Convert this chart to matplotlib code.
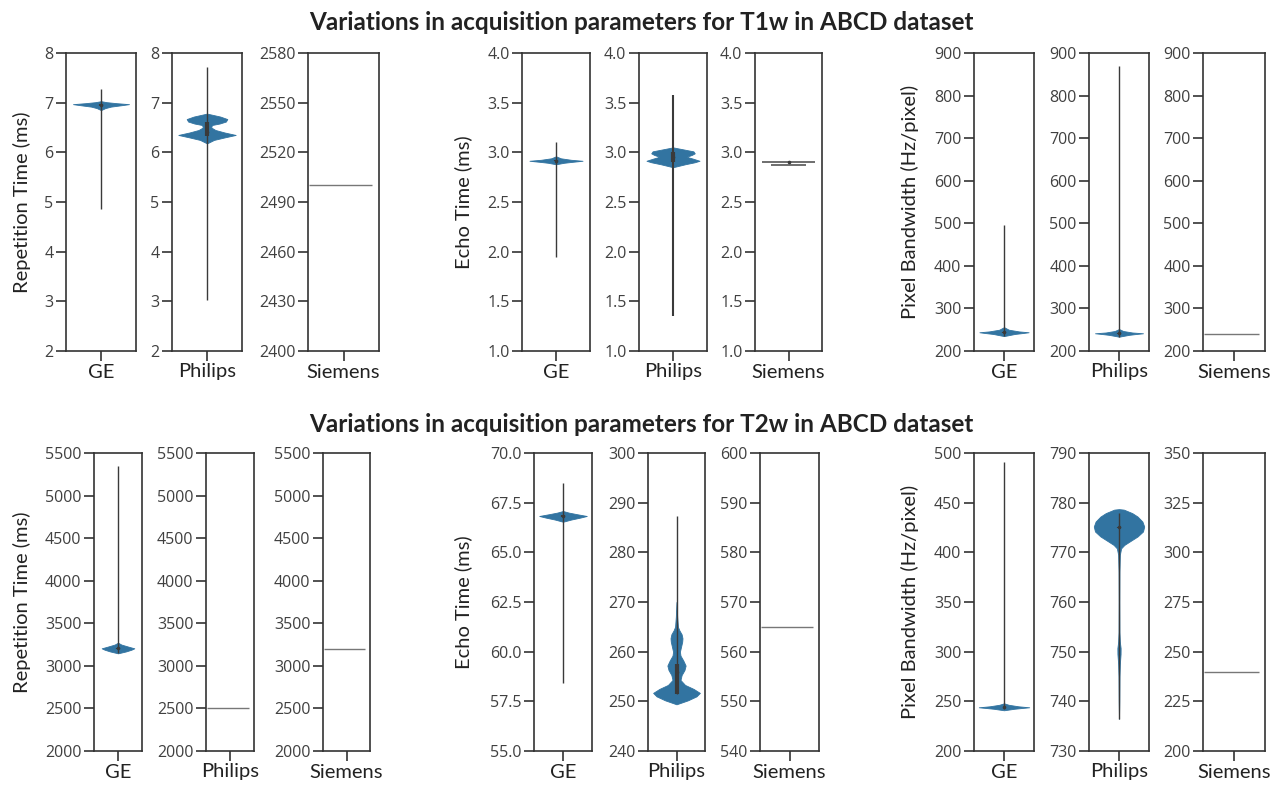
import matplotlib
matplotlib.use("Agg")
import matplotlib.pyplot as plt

# ---------------- data ----------------
vendors = ["GE", "Philips", "Siemens"]
row_titles = ["Variations in acquisition parameters for T1w in ABCD dataset",
              "Variations in acquisition parameters for T2w in ABCD dataset"]
param_labels = ["Repetition Time (ms)", "Echo Time (ms)", "Pixel Bandwidth (Hz/pixel)"]

# y-axis limits / ticks for each panel (row, parameter, vendor)
t1_tr_ylims = [(2, 8), (2, 8), (2400, 2580)]
t1_tr_ticks = [[2, 3, 4, 5, 6, 7, 8], [2, 3, 4, 5, 6, 7, 8], [2400, 2430, 2460, 2490, 2520, 2550, 2580]]
t1_te_ylims = [(1.0, 4.0), (1.0, 4.0), (1.0, 4.0)]
t1_te_ticks = [[1.0, 1.5, 2.0, 2.5, 3.0, 3.5, 4.0]] * 3
t1_pb_ylims = [(200, 900), (200, 900), (200, 900)]
t1_pb_ticks = [[200, 300, 400, 500, 600, 700, 800, 900]] * 3
t2_tr_ylims = [(2000, 5500)] * 3
t2_tr_ticks = [[2000, 2500, 3000, 3500, 4000, 4500, 5000, 5500]] * 3
t2_te_ylims = [(55.0, 70.0), (240, 300), (540, 600)]
t2_te_ticks = [[55.0, 57.5, 60.0, 62.5, 65.0, 67.5, 70.0],
               [240, 250, 260, 270, 280, 290, 300],
               [540, 550, 560, 570, 580, 590, 600]]
t2_pb_ylims = [(200, 500), (730, 790), (200, 350)]
t2_pb_ticks = [[200, 250, 300, 350, 400, 450, 500],
               [730, 740, 750, 760, 770, 780, 790],
               [200, 225, 250, 275, 300, 325, 350]]

# violin density profiles: value levels and half-widths
t1_tr_ge_y = [6.85, 6.89, 6.92, 6.95, 6.97, 6.99, 7.01, 7.03]
t1_tr_ge_w = [0.0, 0.06, 0.14, 0.30, 0.40, 0.22, 0.08, 0.0]
t1_tr_ge_stats = (4.85, 6.94, 6.95, 6.97, 7.27)   # min, q1, median, q3, max

t1_tr_ph_y = [6.18, 6.25, 6.30, 6.35, 6.40, 6.45, 6.50, 6.55, 6.58, 6.62, 6.67, 6.72, 6.78]
t1_tr_ph_w = [0.0, 0.10, 0.25, 0.41, 0.25, 0.12, 0.06, 0.07, 0.18, 0.27, 0.29, 0.19, 0.0]
t1_tr_ph_stats = (3.02, 6.33, 6.40, 6.62, 7.72)

t1_tr_si_line = 2500

t1_te_ge_y = [2.88, 2.895, 2.905, 2.915, 2.925, 2.94, 2.96]
t1_te_ge_w = [0.0, 0.12, 0.25, 0.39, 0.22, 0.07, 0.0]
t1_te_ge_stats = (1.95, 2.91, 2.915, 2.92, 3.10)

t1_te_ph_y = [2.85, 2.88, 2.90, 2.915, 2.935, 2.955, 2.975, 2.99, 3.01, 3.03, 3.05]
t1_te_ph_w = [0.0, 0.18, 0.32, 0.39, 0.30, 0.20, 0.28, 0.32, 0.30, 0.15, 0.0]
t1_te_ph_stats = (1.35, 2.90, 2.95, 3.00, 3.58)

t1_te_si_lines = [2.90, 2.875]
t1_te_si_half = [0.40, 0.26]

t1_pb_ge_y = [235, 240, 242, 244, 246, 250, 256]
t1_pb_ge_w = [0.0, 0.18, 0.30, 0.41, 0.25, 0.08, 0.0]
t1_pb_ge_stats = (236, 243, 244, 245, 497)

t1_pb_ph_y = [233.6, 238, 240, 241.6, 243.5, 247, 251.6]
t1_pb_ph_w = [0.0, 0.17, 0.29, 0.40, 0.22, 0.07, 0.0]
t1_pb_ph_stats = (234, 241, 241.6, 242, 870)

t1_pb_si_line = 240

t2_tr_ge_y = [3147, 3170, 3190, 3206, 3225, 3250, 3272]
t2_tr_ge_w = [0.0, 0.17, 0.28, 0.34, 0.22, 0.07, 0.0]
t2_tr_ge_stats = (3150, 3200, 3206, 3212, 5350)

t2_tr_ph_line = 2500
t2_tr_si_line = 3200

t2_te_ge_y = [66.54, 66.65, 66.75, 66.83, 66.92, 67.0, 67.08]
t2_te_ge_w = [0.0, 0.14, 0.30, 0.41, 0.24, 0.10, 0.0]
t2_te_ge_stats = (58.44, 66.8, 66.83, 66.86, 68.47)

t2_te_ph_y = [249.4, 250.2, 251.0, 251.7, 252.5, 253.3, 254.3, 255.3, 256.3, 257.2, 258.2,
              259.2, 260.0, 261.0, 262.0, 262.7, 263.5, 264.3, 265.0, 267.0, 270.0]
t2_te_ph_w = [0.0, 0.2, 0.35, 0.41, 0.3, 0.15, 0.07, 0.09, 0.14, 0.16, 0.12,
              0.07, 0.06, 0.08, 0.10, 0.105, 0.09, 0.05, 0.025, 0.012, 0.0]
t2_te_ph_stats = (251.5, 251.5, 256.0, 257.6, 287.3)

t2_te_si_line = 565

t2_pb_ge_y = [241, 242.5, 243.3, 244, 245, 246.5, 248]
t2_pb_ge_w = [0.0, 0.17, 0.30, 0.42, 0.24, 0.08, 0.0]
t2_pb_ge_stats = (242, 243.8, 244, 244.2, 491)

t2_pb_ph_y = [736.5, 740, 745, 747.5, 749.5, 750.7, 752, 754, 760, 766, 769.5, 770.8, 771.5,
              772.2, 773.2, 774.2, 775.2, 776.2, 777.2, 777.9, 778.4, 778.6, 778.7]
t2_pb_ph_w = [0.0, 0.005, 0.008, 0.014, 0.026, 0.027, 0.014, 0.007, 0.005, 0.007, 0.014, 0.035, 0.09,
              0.18, 0.31, 0.40, 0.42, 0.39, 0.31, 0.22, 0.12, 0.08, 0.0]
t2_pb_ph_stats = (736.5, 774.9, 775.0, 775.1, 778.0)

t2_pb_si_line = 240

# ---------------- style ----------------
VIOLIN = "#3274a1"
INNER = "#3a3a3a"
SPINE = "#333333"
TICKFONT = "Open Sans"
LABELFONT = "Lato"

W, H = 1272, 786
fig = plt.figure(figsize=(W / 100, H / 100), dpi=100)

# axes pixel boxes: (left, right) for each panel, per row; (top, bottom) per row
row_tb = [(53, 351), (453, 751)]
row_lr = [
    [(66, 136), (172, 242), (308, 379), (522, 590), (639, 707), (755, 822),
     (974, 1034), (1089, 1149), (1203, 1265)],
    [(94, 142), (206, 254), (323, 370), (534, 592), (648, 705), (760, 819),
     (974, 1034), (1089, 1149), (1203, 1265)],
]
label_x = [22, 463, 910]
title_y = [22, 424]


def make_ax(r, k):
    l, rr = row_lr[r][k]
    t, b = row_tb[r]
    ax = fig.add_axes([l / W, 1 - b / H, (rr - l) / W, (b - t) / H])
    ax.set_xlim(-0.5, 0.5)
    ax.set_xticks([0])
    ax.set_xticklabels([vendors[k % 3]], fontfamily=LABELFONT, fontsize=14.5, color="#222222")
    for s in ax.spines.values():
        s.set_color(SPINE)
        s.set_linewidth(1.2)
    ax.tick_params(axis="both", length=7, width=1.2, color=SPINE)
    ax.tick_params(axis="x", pad=2)
    ax.tick_params(axis="y", labelsize=11.5, labelcolor="#404040", pad=2)
    return ax


def violin(ax, ys, ws, stats, whisker_lw=1.0):
    ax.fill_betweenx(ys, [-w for w in ws], ws, color=VIOLIN, lw=0.6, edgecolor=VIOLIN, zorder=2)
    mn, q1, med, q3, mx = stats
    ax.vlines(0, mn, mx, color=INNER, lw=whisker_lw, zorder=3)
    ax.vlines(0, q1, q3, color=INNER, lw=3, zorder=3)
    ax.plot([0], [med], marker="o", ms=1.6, color=INNER, zorder=4)


def flat(ax, val, x0=-0.48, x1=0.4, color="#777777", lw=1.0):
    ax.hlines(val, x0, x1, color=color, lw=lw, zorder=2)


panels = [
    # row 0
    (0, 0, t1_tr_ylims[0], t1_tr_ticks[0], ("v", t1_tr_ge_y, t1_tr_ge_w, t1_tr_ge_stats, 1.0)),
    (0, 1, t1_tr_ylims[1], t1_tr_ticks[1], ("v", t1_tr_ph_y, t1_tr_ph_w, t1_tr_ph_stats, 1.0)),
    (0, 2, t1_tr_ylims[2], t1_tr_ticks[2], ("l", t1_tr_si_line)),
    (0, 3, t1_te_ylims[0], t1_te_ticks[0], ("v", t1_te_ge_y, t1_te_ge_w, t1_te_ge_stats, 1.0)),
    (0, 4, t1_te_ylims[1], t1_te_ticks[1], ("v", t1_te_ph_y, t1_te_ph_w, t1_te_ph_stats, 1.5)),
    (0, 5, t1_te_ylims[2], t1_te_ticks[2], ("ll",)),
    (0, 6, t1_pb_ylims[0], t1_pb_ticks[0], ("v", t1_pb_ge_y, t1_pb_ge_w, t1_pb_ge_stats, 1.0)),
    (0, 7, t1_pb_ylims[1], t1_pb_ticks[1], ("v", t1_pb_ph_y, t1_pb_ph_w, t1_pb_ph_stats, 1.0)),
    (0, 8, t1_pb_ylims[2], t1_pb_ticks[2], ("l", t1_pb_si_line)),
    # row 1
    (1, 0, t2_tr_ylims[0], t2_tr_ticks[0], ("v", t2_tr_ge_y, t2_tr_ge_w, t2_tr_ge_stats, 1.0)),
    (1, 1, t2_tr_ylims[1], t2_tr_ticks[1], ("l", t2_tr_ph_line)),
    (1, 2, t2_tr_ylims[2], t2_tr_ticks[2], ("l", t2_tr_si_line)),
    (1, 3, t2_te_ylims[0], t2_te_ticks[0], ("v", t2_te_ge_y, t2_te_ge_w, t2_te_ge_stats, 1.0)),
    (1, 4, t2_te_ylims[1], t2_te_ticks[1], ("v", t2_te_ph_y, t2_te_ph_w, t2_te_ph_stats, 1.0)),
    (1, 5, t2_te_ylims[2], t2_te_ticks[2], ("l", t2_te_si_line)),
    (1, 6, t2_pb_ylims[0], t2_pb_ticks[0], ("v", t2_pb_ge_y, t2_pb_ge_w, t2_pb_ge_stats, 1.0)),
    (1, 7, t2_pb_ylims[1], t2_pb_ticks[1], ("v", t2_pb_ph_y, t2_pb_ph_w, t2_pb_ph_stats, 1.0)),
    (1, 8, t2_pb_ylims[2], t2_pb_ticks[2], ("l", t2_pb_si_line)),
]

for r, k, ylim, ticks, spec in panels:
    ax = make_ax(r, k)
    if spec[0] == "v":
        violin(ax, spec[1], spec[2], spec[3], spec[4])
    elif spec[0] == "l":
        flat(ax, spec[1])
    else:
        for v, hw in zip(t1_te_si_lines, t1_te_si_half):
            ax.hlines(v, -hw, hw, color="#555555", lw=1.2, zorder=2)
        ax.plot([0], [t1_te_si_lines[0]], marker="o", ms=1.6, color=INNER)
    ax.set_ylim(*ylim)
    ax.set_yticks(ticks)
    if isinstance(ticks[1], float) and ticks[1] % 1 != 0:
        ax.set_yticklabels([f"{t:.1f}" for t in ticks])
    for lab in ax.get_yticklabels():
        lab.set_fontfamily(TICKFONT)

for r in range(2):
    fig.text(641 / W, 1 - title_y[r] / H, row_titles[r], ha="center", va="center",
             fontfamily=LABELFONT, fontweight="bold", fontsize=17.5, color="#222222")
    t, b = row_tb[r]
    for g in range(3):
        fig.text(label_x[g] / W, 1 - ((t + b) / 2) / H, param_labels[g], rotation=90,
                 ha="center", va="center", fontfamily=LABELFONT, fontsize=14.5, color="#222222")

fig.savefig("out.png", dpi=100, facecolor="white")
